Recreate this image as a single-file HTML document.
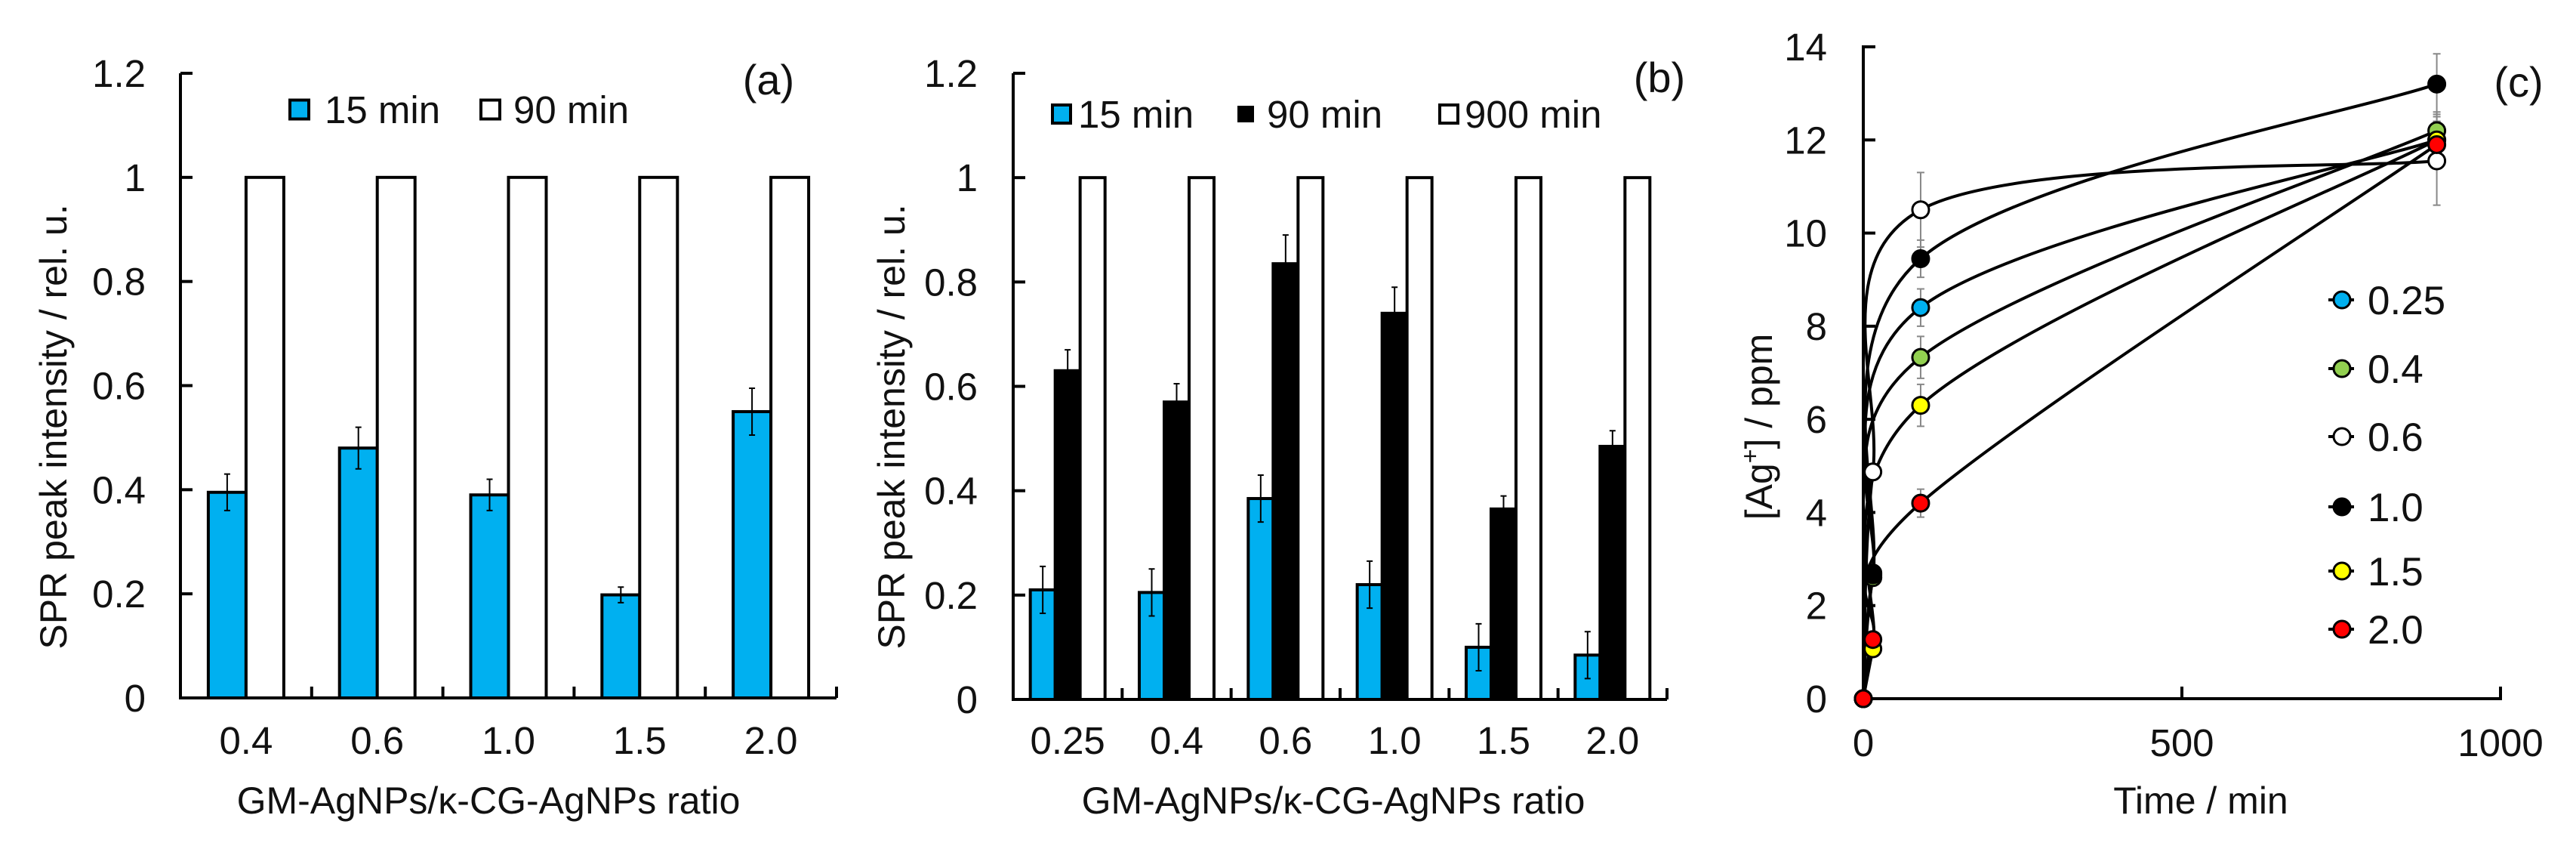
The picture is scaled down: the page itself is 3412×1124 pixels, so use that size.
<!DOCTYPE html>
<html><head><meta charset="utf-8">
<style>
html,body{margin:0;padding:0;background:#fff;}
svg{display:block;font-family:"Liberation Sans",Arial,sans-serif;}
</style></head>
<body>
<svg id="fig" width="3412" height="1124" viewBox="0 0 3412 1124" xmlns="http://www.w3.org/2000/svg">
<rect width="3412" height="1124" fill="#fff"/>
<g id="pa"></g>
<g id="pb"></g>
<g id="pc"></g>
</svg>
<script>
// ---- Panel (a) data ----
const catsA = ["0.4","0.6","1.0","1.5","2.0"];
const a15 = [0.395,0.48,0.39,0.198,0.55];
const a15err = [0.035,0.04,0.03,0.015,0.045];
const a90 = [1,1,1,1,1];
const yTicksAB = [0,0.2,0.4,0.6,0.8,1,1.2];
const yTickLabelsAB = ["0","0.2","0.4","0.6","0.8","1","1.2"];
// ---- Panel (b) data ----
const catsB = ["0.25","0.4","0.6","1.0","1.5","2.0"];
const b15 = [0.21,0.205,0.385,0.22,0.10,0.085];
const b15err = [0.045,0.045,0.045,0.045,0.045,0.045];
const b90 = [0.63,0.57,0.835,0.74,0.365,0.485];
const b90err = [0.04,0.035,0.055,0.05,0.025,0.03];
const b900 = [1,1,1,1,1,1];
// ---- Panel (c) data ----
const timesC = [0,15,90,900];
const seriesNamesC = ["0.25","0.4","0.6","1.0","1.5","2.0"];
const seriesColorsC = ["#00b0f0","#92d050","#ffffff","#000000","#ffff00","#ff0000"];
const c025 = [0,2.7,8.4,12.0];
const c04 = [0,2.6,7.33,12.2];
const c06 = [0,4.87,10.5,11.55];
const c10 = [0,2.66,9.45,13.2];
const c15 = [0,1.07,6.3,12.0];
const c20 = [0,1.27,4.2,11.9];
const cErr025 = [0,0,0.4,0.4];
const cErr04 = [0,0,0.45,0.4];
const cErr06 = [0,0,0.8,0.95];
const cErr10 = [0,0,0.4,0.65];
const cErr15 = [0,0,0.45,0.4];
const cErr20 = [0,0,0.3,0.4];
const xTicksC = [0,500,1000];
const yTicksC = [0,2,4,6,8,10,12,14];

const NS="http://www.w3.org/2000/svg";
function mk(parent,tag,attrs,text){const e=document.createElementNS(NS,tag);for(const k in attrs)e.setAttribute(k,attrs[k]);if(text!==undefined)e.textContent=text;parent.appendChild(e);return e;}

function barPanel(g,cfg){
  const {x0,x1,y0,y1,cats,series,fills,errs,ylab,tag,tagX,tagY,titleX,legend,prefix}=cfg;
  const ymax=1.2;
  const Y=v=>y0-(v/ymax)*(y0-y1);
  const cw=(x1-x0)/cats.length;
  const bw=cfg.bw;
  const nS=series.length;
  for(let s=0;s<nS;s++){
    for(let i=0;i<cats.length;i++){
      const cx=x0+cw*(i+0.5);
      const bx=cx-bw*nS/2+bw*s;
      const v=series[s][i];
      const r=mk(g,"rect",{x:bx,y:Y(v),width:bw,height:y0-Y(v),fill:fills[s],stroke:"#000","stroke-width":4});
      
      
      if(errs[s]){
        const e=errs[s][i], ex=bx+bw/2;
        const l=mk(g,"path",{d:`M${ex},${Y(v+e)}V${Y(v-e)}M${ex-4},${Y(v+e)}H${ex+4}M${ex-4},${Y(v-e)}H${ex+4}`,stroke:"#000","stroke-width":2,fill:"none"});
        
        
      }
    }
  }
  const ax=mk(g,"path",{d:`M${x0},${y1}V${y0}H${x1}`,stroke:"#000","stroke-width":4,fill:"none"});
  
  
  for(let k=0;k<yTicksAB.length;k++){
    const yy=Y(yTicksAB[k]);
    mk(g,"line",{x1:x0,x2:x0+16,y1:yy,y2:yy,stroke:"#000","stroke-width":4});
    const t=mk(g,"text",{x:cfg.tickRight,y:yy+18,"font-size":51,"text-anchor":"end",fill:"#111"},yTickLabelsAB[k]);
    
    
  }
  for(let i=0;i<=cats.length;i++){
    const xx=x0+cw*i;
    mk(g,"line",{x1:xx,x2:xx,y1:y0,y2:y0-15,stroke:"#000","stroke-width":4});
  }
  for(let i=0;i<cats.length;i++){
    const t=mk(g,"text",{x:x0+cw*(i+0.5),y:998,"font-size":51,"text-anchor":"middle",fill:"#111"},cats[i]);
    
    
  }
  const xt=mk(g,"text",{x:titleX,y:1077,"font-size":50,"text-anchor":"middle",fill:"#111"},"GM-AgNPs/κ-CG-AgNPs ratio");
  
  
  const yt=mk(g,"text",{x:0,y:0,"font-size":50,"text-anchor":"middle",fill:"#111",transform:`translate(${ylab},565) rotate(-90)`},"SPR peak intensity / rel. u.");
  
  
  const tg=mk(g,"text",{x:tagX,y:tagY,"font-size":56,"text-anchor":"middle",fill:"#111"},tag);
  
  
  legend.forEach(L=>{
    const r=mk(g,"rect",{x:L.x,y:L.cy-L.s/2,width:L.s,height:L.s,fill:L.fill,stroke:"#000","stroke-width":4});
    
    
    const t=mk(g,"text",{x:L.tx,y:L.cy+18,"font-size":51,fill:"#111"},L.label);
    
    
  });
}

barPanel(document.getElementById("pa"),{prefix:"a",x0:239,x1:1108,y0:924,y1:97,cats:catsA,series:[a15,a90],fills:["#00b0f0","#fff"],errs:[a15err,null],snames:["15min","90min"],bw:50,ylab:88,tickRight:193,tag:"(a)",tagX:1018,tagY:125,titleX:647,
  legend:[{x:384,cy:145,s:25,fill:"#00b0f0",tx:430,label:"15 min"},{x:637,cy:145,s:25,fill:"#fff",tx:680,label:"90 min"}]});
barPanel(document.getElementById("pb"),{prefix:"b",x0:1342,x1:2208,y0:926,y1:97,cats:catsB,series:[b15,b90,b900],fills:["#00b0f0","#000","#fff"],errs:[b15err,b90err,null],snames:["15min","90min","900min"],bw:33,ylab:1198,tickRight:1295,tag:"(b)",tagX:2198,tagY:122,titleX:1766,
  legend:[{x:1394,cy:151,s:24,fill:"#00b0f0",tx:1428,label:"15 min"},{x:1641,cy:151,s:18,fill:"#000",tx:1678,label:"90 min"},{x:1907,cy:151,s:24,fill:"#fff",tx:1940,label:"900 min"}]});

(function(){
  const g=document.getElementById("pc");
  const x0=2468,x1=3312,y0=925,y1=62;
  const X=v=>x0+v/1000*(x1-x0);
  const Y=v=>y0-v/14*(y0-y1);
  const data=[c025,c04,c06,c10,c15,c20];
  const errs=[cErr025,cErr04,cErr06,cErr10,cErr15,cErr20];
  data.forEach((d,s)=>{
    for(let i=0;i<d.length;i++){
      const e=errs[s][i]; if(!e) continue;
      const ex=X(timesC[i]);
      const l=mk(g,"path",{d:`M${ex},${Y(d[i]+e)}V${Y(d[i]-e)}M${ex-5},${Y(d[i]+e)}H${ex+5}M${ex-5},${Y(d[i]-e)}H${ex+5}`,stroke:"#888","stroke-width":2,fill:"none"});
      
      
    }
  });
  data.forEach((d,s)=>{
    const P=d.map((v,i)=>[X(timesC[i]),Y(v)]);
    let path=`M${P[0][0]},${P[0][1]}`;
    for(let i=0;i<P.length-1;i++){
      const p0=P[Math.max(i-1,0)],p1=P[i],p2=P[i+1],p3=P[Math.min(i+2,P.length-1)];
      const c1=[p1[0]+(p2[0]-p0[0])/6,p1[1]+(p2[1]-p0[1])/6];
      const c2=[p2[0]-(p3[0]-p1[0])/6,p2[1]-(p3[1]-p1[1])/6];
      path+=` C${c1[0]},${c1[1]} ${c2[0]},${c2[1]} ${p2[0]},${p2[1]}`;
    }
    const l=mk(g,"path",{d:path,stroke:"#000","stroke-width":4,fill:"none"});
    
    
  });
  const ax=mk(g,"path",{d:`M${x0+16},${y1}H${x0}V${y0}H${x1}V${y0-16}`,stroke:"#000","stroke-width":4,fill:"none"});
  
  
  yTicksC.forEach(v=>{
    mk(g,"line",{x1:x0,x2:x0+16,y1:Y(v),y2:Y(v),stroke:"#000","stroke-width":4});
    const t=mk(g,"text",{x:2420,y:Y(v)+18,"font-size":51,"text-anchor":"end",fill:"#111"},String(v));
    
    
  });
  xTicksC.forEach(v=>{
    mk(g,"line",{x1:X(v),x2:X(v),y1:y0,y2:y0-16,stroke:"#000","stroke-width":4});
    const t=mk(g,"text",{x:X(v),y:1001,"font-size":51,"text-anchor":"middle",fill:"#111"},String(v));
    
    
  });
  data.forEach((d,s)=>{
    d.forEach((v,i)=>{
      const c=mk(g,"circle",{cx:X(timesC[i]),cy:Y(v),r:11,fill:seriesColorsC[s],stroke:"#000","stroke-width":3});
      
      
    });
  });
  const ly=[397,488,578,671,756,833];
  seriesNamesC.forEach((n,s)=>{
    mk(g,"line",{x1:3084,x2:3118,y1:ly[s],y2:ly[s],stroke:"#000","stroke-width":4});
    const c=mk(g,"circle",{cx:3102,cy:ly[s],r:11,fill:seriesColorsC[s],stroke:"#000","stroke-width":3});
    
    
    const t=mk(g,"text",{x:3136,y:ly[s]+19,"font-size":53,fill:"#111"},n);
    
    
  });
  const xt=mk(g,"text",{x:2915,y:1077,"font-size":50,"text-anchor":"middle",fill:"#111"},"Time / min");
  
  
  const yt=mk(g,"text",{x:0,y:0,"font-size":50,"text-anchor":"middle",fill:"#111",transform:"translate(2347,565) rotate(-90)"});
  
  
  yt.appendChild(document.createTextNode("[Ag"));
  mk(yt,"tspan",{"font-size":32,dy:-18},"+");
  mk(yt,"tspan",{dy:18},"] / ppm");
  const tg=mk(g,"text",{x:3336,y:128,"font-size":56,"text-anchor":"middle",fill:"#111"},"(c)");
  
  
})();
</script>
</body></html>
